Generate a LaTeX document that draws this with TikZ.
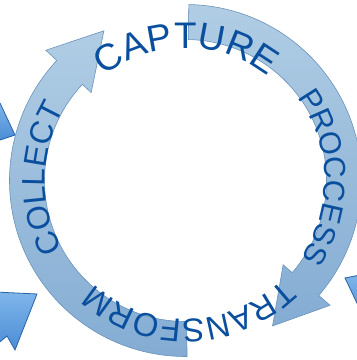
\documentclass[tikz,border=0pt]{standalone}
\usepackage{fontspec}
\setmainfont{Liberation Sans}
\usepackage{xcolor}
\definecolor{ringTop}{HTML}{B0CDE4}
\definecolor{ringBottom}{HTML}{84ACD3}
\definecolor{ringBorder}{HTML}{6B92BB}
\definecolor{labelBlue}{HTML}{0A4F9E}
\definecolor{sideTop}{HTML}{80B6EA}
\definecolor{sideBottom}{HTML}{4A8CD6}
\definecolor{sideBorder}{HTML}{2A62A6}
\usetikzlibrary{decorations.text}
\tikzset{
    ringarrow/.style={
        draw=ringBorder,
        line width=0.6pt,
        top color=ringTop,
        bottom color=ringBottom,
        line join=miter
    },
    sidearrow/.style={
        draw=sideBorder,
        line width=0.8pt,
        top color=sideTop,
        bottom color=sideBottom,
        line join=miter
    },
    arclabel/.style={
        decorate,
        decoration={
            text along path,
            text align=center,
            text color=labelBlue,
            text={#1}
        }
    }
}

\begin{document}
\begin{tikzpicture}[x=1pt, y=1pt]
    \useasboundingbox (0,0) rectangle (357,360);
    \clip (0,0) rectangle (357,360);

    % cut-off arrows at the edges
    \draw[sidearrow] (-5,257) -- (0,257) -- (15,225) -- (0,220) -- (-5,220) -- cycle;
    \draw[sidearrow] (-5,68) -- (37,66) -- (15,10) -- (7,24) -- (-5,14) -- cycle;
    \draw[sidearrow] (345,82) -- (365,86) -- (365,40) -- cycle;

    \begin{scope}[shift={(185.5,179.5)}]
        % right arrow: capture -> transform
        \draw[ringarrow] (88.9:176) arc[start angle=88.9, end angle=-40.8, radius=176]
            -- (-40.8:191) -- (-59.1:169.5) -- (-40.8:129) -- (-40.8:141)
            arc[start angle=-40.8, end angle=88.9, radius=141] -- cycle;
        % left arrow: transform -> capture
        \draw[ringarrow] (270.5:176) arc[start angle=270.5, end angle=137, radius=176]
            -- (137:191) -- (118.6:170.5) -- (137:129) -- (137:141)
            arc[start angle=137, end angle=270.5, radius=141] -- cycle;

        % labels along the ring
        \path[arclabel={|\fontsize{37}{37}\selectfont|CAPTURE}]
            (149.6:132.5) arc[start angle=149.6, end angle=29.6, radius=132.5];
        \path[arclabel={|\fontsize{30.5}{30.5}\selectfont|PROCCESS}]
            (56.5:139) arc[start angle=56.5, end angle=-53.5, radius=139];
        \path[arclabel={|\fontsize{33}{33}\selectfont|TRANSFORM}]
            (-28.5:138.5) arc[start angle=-28.5, end angle=-148.5, radius=138.5];
        \path[arclabel={|\fontsize{32}{32}\selectfont|COLLECT}]
            (229:140.5) arc[start angle=229, end angle=129, radius=140.5];
    \end{scope}
\end{tikzpicture}
\end{document}
